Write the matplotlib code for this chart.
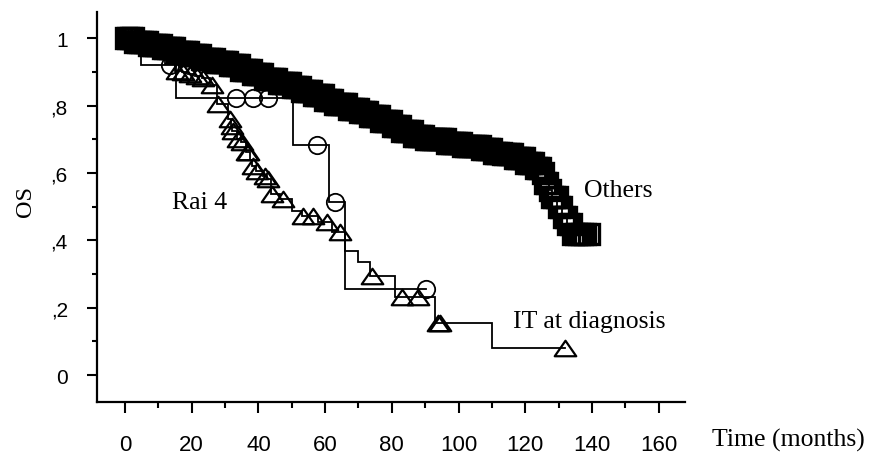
import numpy as np
import matplotlib
matplotlib.use("Agg")
import matplotlib.pyplot as plt
from matplotlib.path import Path

# ---------------- data ----------------
# "Others" group (squares)
others_t = [0, 3, 7, 11, 15, 19.5, 23, 27, 31, 34.5, 38, 42, 46, 50, 53, 56.5, 60, 63,
            66.5, 70, 73, 76.5, 80, 83, 86.5, 90, 96.5, 101, 106.5, 110, 113, 116.5,
            120, 123, 125, 126, 127, 128, 129.5, 131, 132.5, 134]
others_s = [1.0, 0.99, 0.98, 0.97, 0.96, 0.95, 0.94, 0.93, 0.92, 0.905, 0.895, 0.88,
            0.868, 0.855, 0.843, 0.832, 0.817, 0.805, 0.79, 0.78, 0.77, 0.755, 0.74, 0.725,
            0.71, 0.70, 0.69, 0.68, 0.67, 0.66, 0.655, 0.645, 0.63, 0.615, 0.60, 0.57,
            0.55, 0.53, 0.50, 0.47, 0.45, 0.42]
others_end = 139
others_cens = [0.3, 1.0, 1.7, 2.3, 3.0, 3.8, 4.4, 5.1, 5.9, 6.5, 7.2, 7.9, 8.6, 9.2, 9.9,
               10.7, 11.3, 12.0, 12.8, 13.4, 14.1, 14.8, 15.5, 16.1, 16.9, 17.6, 18.2,
               19.0, 19.6, 20.3, 21.1, 21.7, 22.4, 23.2, 23.8, 24.5, 25.3, 25.9, 26.6,
               27.3, 28.0, 28.7, 29.4, 30.1, 30.7, 31.5, 32.2, 32.8, 33.6, 34.3, 34.9,
               35.7, 36.4, 37.0, 37.8, 38.5, 39.1, 39.9, 40.6, 41.2, 42.0, 42.6, 43.3,
               44.1, 44.7, 45.4, 46.2, 46.8, 47.5, 48.3, 48.9, 49.6, 50.4, 51.0, 51.7,
               52.5, 53.1, 53.8, 54.6, 55.2, 55.9, 56.7, 57.3, 58.0, 58.8, 59.4, 60.1,
               60.9, 61.5, 62.2, 63.0, 63.6, 64.3, 65.1, 65.7, 66.4, 67.2, 67.8, 68.5,
               69.3, 69.9, 70.6, 71.4, 72.0, 72.7, 73.5, 74.1, 74.8, 75.6, 76.2, 76.9,
               77.7, 78.3, 79.0, 79.8, 80.4, 81.1, 81.9, 82.5, 83.2, 84.0, 84.6, 85.3,
               86.1, 86.7, 87.4, 88.2, 88.8, 89.5, 90.3, 90.9, 91.6, 92.4, 93.0, 93.7,
               94.5, 95.1, 95.8, 96.6, 97.2, 97.9, 98.7, 99.3, 100.0, 100.8, 101.4,
               102.1, 102.9, 103.5, 104.2, 105.0, 105.6, 106.3, 107.1, 107.7, 108.4,
               109.2, 109.8, 110.5, 111.3, 111.9, 112.6, 113.4, 114.0, 114.7, 115.5,
               116.1, 116.8, 117.6, 118.2, 118.9, 119.7, 120.3, 121.0, 121.8, 122.4,
               123.1, 123.9, 124.5, 125.2, 126.0, 126.6, 127.3, 128.1, 128.7, 129.4,
               130.2, 130.8, 131.5, 132.3, 132.9, 133.6, 134.4, 135.2, 136.1, 137.0,
               138.0, 139.0]

# "Rai 4" group (triangles)
rai_t = [0, 3, 8, 12, 15, 17, 19, 21, 23, 25.5, 27.5, 31, 31.8, 32.2, 33.5, 34.8, 36.3,
         37.5, 38.2, 39.3, 41.5, 42.6, 43.8, 46.5, 50, 53, 58, 62, 66, 70, 73.5, 81, 93, 110]
rai_s = [1.0, 0.975, 0.95, 0.925, 0.904, 0.90, 0.894, 0.889, 0.882, 0.862, 0.805, 0.76,
         0.74, 0.725, 0.70, 0.692, 0.662, 0.64, 0.62, 0.606, 0.591, 0.582, 0.537, 0.523,
         0.488, 0.472, 0.454, 0.425, 0.368, 0.335, 0.295, 0.232, 0.155, 0.079]
rai_end = 132
rai_cens = [1.0, 15.5, 17.4, 19.5, 21.5, 23.4, 26.0, 27.9, 31.5, 32.0, 32.4, 33.9, 35.1,
            36.6, 37.0, 38.4, 39.6, 42.0, 42.9, 44.0, 47.4, 53.4, 56.4, 60.6, 64.5, 74.0,
            83.0, 87.9, 93.9, 94.5, 132.0]

# "IT at diagnosis" group (circles)
it_t = [0, 4.7, 15.3, 50.5, 61.3, 66]
it_s = [1.0, 0.922, 0.824, 0.683, 0.513, 0.255]
it_end = 90.3
it_cens = [1.0, 4.0, 13.5, 33.2, 38.5, 43.0, 57.5, 63.0, 90.3]

x_major = [0, 20, 40, 60, 80, 100, 120, 140, 160]
x_minor = [10, 30, 50, 70, 90, 110, 130, 150]
y_major = [0, 0.2, 0.4, 0.6, 0.8, 1.0]
y_minor = [0.1, 0.3, 0.5, 0.7, 0.9]
y_labels = ["0", ",2", ",4", ",6", ",8", "1"]

# ---------------- drawing ----------------
SANS = "Liberation Sans"
SERIF = "Liberation Serif"

fig = plt.figure(figsize=(8.82, 4.56), dpi=100)
ax = fig.add_axes([0.1096, 0.1156, 0.667, 0.8565])
ax.set_xlim(-8.5, 167.9)
ax.set_ylim(-0.081, 1.079)


def step_value(ts, ss, t):
    idx = np.searchsorted(np.asarray(ts), np.asarray(t), side="right") - 1
    return np.asarray(ss)[idx]


def km(ts, ss, end, cens, marker, ms, mew):
    xs = list(ts) + [end]
    ys = list(ss) + [ss[-1]]
    ax.plot(xs, ys, drawstyle="steps-post", color="black", lw=1.3,
            solid_joinstyle="miter", zorder=2)
    ax.plot(cens, step_value(ts, ss, cens), linestyle="none", marker=marker,
            ms=ms, mfc="none", mec="black", mew=mew, zorder=3)


tri = Path([(-1, -0.72), (1, -0.72), (0, 0.72), (-1, -0.72)],
           [Path.MOVETO, Path.LINETO, Path.LINETO, Path.CLOSEPOLY])

km(others_t, others_s, others_end, others_cens, "s", 15, 2.4)
km(it_t, it_s, it_end, it_cens, "o", 12.5, 1.3)
km(rai_t, rai_s, rai_end, rai_cens, tri, 15.5, 1.6)

for side in ("top", "right"):
    ax.spines[side].set_visible(False)
for side in ("left", "bottom"):
    ax.spines[side].set_linewidth(1.6)

ax.set_xticks(x_major)
ax.set_xticks(x_minor, minor=True)
ax.set_yticks(y_major)
ax.set_yticks(y_minor, minor=True)
ax.set_yticklabels(y_labels)
ax.tick_params(axis="x", which="major", direction="out", length=8, width=1.5, pad=15,
               labelsize=16)
ax.tick_params(axis="x", which="minor", direction="out", length=4.3, width=1.5)
ax.tick_params(axis="y", which="major", direction="out", length=7.2, width=1.5, pad=13.5,
               labelsize=15)
ax.tick_params(axis="y", which="minor", direction="out", length=3.6, width=1.5)
for lab in ax.get_xticklabels() + ax.get_yticklabels():
    lab.set_fontfamily(SANS)

ax.text(22.5, 0.514, "Rai 4", family=SERIF, fontsize=18.5, ha="center", va="center")
ax.text(147.8, 0.549, "Others", family=SERIF, fontsize=18.5, ha="center", va="center")
ax.text(116.3, 0.16, "IT at diagnosis", family=SERIF, fontsize=18.5, ha="left", va="center")

fig.text(25 / 882, 1 - 202 / 456, "OS", family=SERIF, fontsize=17.5, rotation=90,
         ha="center", va="center")
fig.text(712 / 882, 1 - 440 / 456, "Time (months)", family=SERIF, fontsize=18.5,
         ha="left", va="center")

fig.savefig("out.png", dpi=100)
